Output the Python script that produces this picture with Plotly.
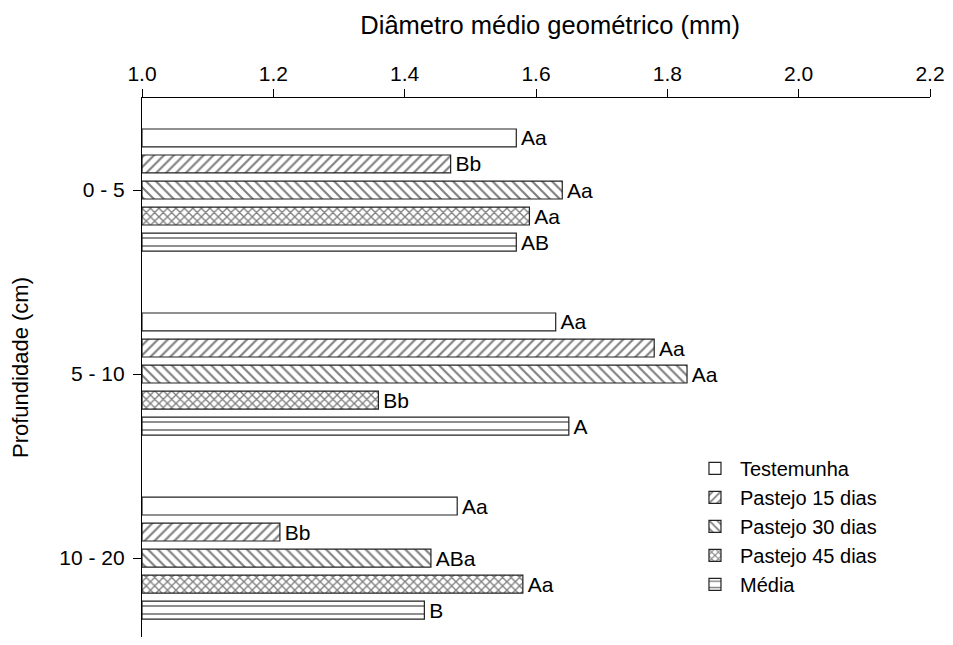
import plotly.graph_objects as go

categories = ["0 - 5", "5 - 10", "10 - 20"]
series_names = ["Testemunha", "Pastejo 15 dias", "Pastejo 30 dias", "Pastejo 45 dias", "Média"]
testemunha = [1.57, 1.63, 1.48]
pastejo15 = [1.47, 1.78, 1.21]
pastejo30 = [1.64, 1.83, 1.44]
pastejo45 = [1.59, 1.36, 1.58]
media = [1.57, 1.65, 1.43]
labels_testemunha = ["Aa", "Aa", "Aa"]
labels_p15 = ["Bb", "Aa", "Bb"]
labels_p30 = ["Aa", "Aa", "ABa"]
labels_p45 = ["Aa", "Bb", "Aa"]
labels_media = ["AB", "A", "B"]
x_ticks = [1.0, 1.2, 1.4, 1.6, 1.8, 2.0, 2.2]

values = [testemunha, pastejo15, pastejo30, pastejo45, media]
labels = [labels_testemunha, labels_p15, labels_p30, labels_p45, labels_media]
patterns = [
    dict(shape=""),
    dict(shape="/", size=7, solidity=0.3, fgcolor="black", bgcolor="white", fillmode="overlay"),
    dict(shape="\\", size=7, solidity=0.3, fgcolor="black", bgcolor="white", fillmode="overlay"),
    dict(shape="x", size=6, solidity=0.4, fgcolor="black", bgcolor="white", fillmode="overlay"),
    dict(shape="-", size=8, solidity=0.22, fgcolor="black", bgcolor="white", fillmode="overlay"),
]

FONT = "Liberation Sans, Arial, sans-serif"

fig = go.Figure()
for name, vals, labs, pat in zip(series_names, values, labels, patterns):
    fig.add_trace(go.Bar(
        y=categories, x=[v - 1.0 for v in vals], base=1.0, orientation="h", name=name,
        text=labs, texttemplate="\u200a%{text}", textposition="outside", cliponaxis=False,
        textfont=dict(size=21, color="black", family=FONT),
        marker=dict(color="white", line=dict(color="#222", width=1.2), pattern=pat),
        hoverinfo="skip",
    ))

# page body has an 8px margin: figure sized so the page does not scroll
fig.update_layout(
    width=937, height=629,
    margin=dict(l=134, r=15, t=90, b=0),
    paper_bgcolor="white", plot_bgcolor="white",
    barmode="group", bargap=0.293, bargroupgap=0.31,
    font=dict(family=FONT, size=21, color="black"),
    title=dict(text="Diâmetro médio geométrico (mm)", font=dict(size=25.5, family=FONT),
               xref="paper", x=0.518, xanchor="center",
               yref="container", y=0.973, yanchor="middle"),
    showlegend=True,
    legend=dict(x=0.6954, y=0.349, xanchor="left", yanchor="top",
                font=dict(size=20, family=FONT), bgcolor="rgba(0,0,0,0)",
                itemwidth=40, tracegroupgap=0),
)
fig.update_traces(constraintext="none")
fig.update_xaxes(
    side="top", range=[1.0, 2.2], tickvals=x_ticks, tickformat=".1f",
    ticklabeloverflow="allow",
    showline=True, linecolor="black", linewidth=1.2,
    ticks="outside", ticklen=8, tickcolor="black", tickwidth=1,
    showgrid=False, zeroline=False,
    tickfont=dict(size=21, family=FONT),
)
fig.update_yaxes(
    categoryorder="array", categoryarray=categories, range=[2.429, -0.5],
    showline=True, linecolor="black", linewidth=1.2,
    ticks="outside", ticklen=8, tickcolor="black", tickwidth=1,
    showgrid=False, zeroline=False, ticklabelstandoff=4,
    tickfont=dict(size=21, family=FONT),
    title=dict(text="Profundidade (cm)", font=dict(size=22, family=FONT), standoff=26),
)

fig.write_html("out.html")
